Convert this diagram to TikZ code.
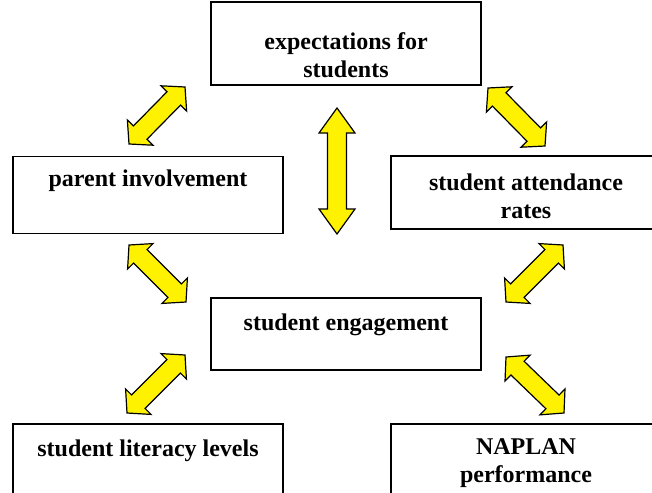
\documentclass[tikz,border=0pt]{standalone}
\usepackage{fontspec}
\setmainfont{Liberation Serif}
\usetikzlibrary{calc}
\tikzset{box/.style={draw,line width=1.6pt,minimum width=270pt,inner sep=0pt},
  boxtext/.style={font=\fontsize{24}{28}\selectfont\bfseries,align=center,inner sep=0pt},
  twowaystyle/.style={draw=black,fill=yellow,line width=1.2pt,line join=miter}}
% yellow double block arrow between two coordinates, #1 = head length
\newcommand{\twoway}[3][16pt]{%
\draw[twowaystyle] (#2)
  -- ($($(#2)!#1!(#3)$)!18pt!90:(#3)$)
  -- ($($(#2)!#1!(#3)$)!9.5pt!90:(#3)$)
  -- ($($(#3)!#1!(#2)$)!9.5pt!-90:(#2)$)
  -- ($($(#3)!#1!(#2)$)!18pt!-90:(#2)$)
  -- (#3)
  -- ($($(#3)!#1!(#2)$)!18pt!90:(#2)$)
  -- ($($(#3)!#1!(#2)$)!9.5pt!90:(#2)$)
  -- ($($(#2)!#1!(#3)$)!9.5pt!-90:(#3)$)
  -- ($($(#2)!#1!(#3)$)!18pt!-90:(#3)$)
  -- cycle;}

\begin{document}
\begin{tikzpicture}[x=1pt,y=-1pt]
\useasboundingbox (0,0) rectangle (652,492);
\clip (0,0) rectangle (652,492);
% boxes
\node[box,minimum height=83pt] (expect) at (346,43.5) {};
\node[box,minimum height=77pt] (parent) at (148,195) {};
\node[box,minimum height=73pt] (attend) at (526,192.5) {};
\node[box,minimum height=72pt] (engage) at (346,334) {};
\node[box,minimum height=86pt] (literacy) at (148,467) {};
\node[box,minimum height=86pt] (naplan) at (526,467) {};
% texts
\node[boxtext] (expectlbl) at (346,55) {expectations for\\students};
\node[boxtext] (parentlbl) at (148,181) {parent involvement};
\node[boxtext] (attendlbl) at (526,196) {student attendance\\rates};
\node[boxtext] (engagelbl) at (346,325) {student engagement};
\node[boxtext] (literacylbl) at (148,451) {student literacy levels};
\node[boxtext] (naplanlbl) at (526,463) {NAPLAN\\performance};
% arrow ends
\coordinate (ep1) at (129,144);
\coordinate (ep2) at (185,87);
\coordinate (ea1) at (488,88);
\coordinate (ea2) at (545,146);
\coordinate (ee1) at (337,108);
\coordinate (ee2) at (337,234);
\coordinate (pe1) at (129,245);
\coordinate (pe2) at (186,302);
\coordinate (ae1) at (563,245);
\coordinate (ae2) at (506,302);
\coordinate (el1) at (185,355);
\coordinate (el2) at (127,413);
\coordinate (en1) at (506,357);
\coordinate (en2) at (564,413);
% arrows
\twoway{ep1}{ep2}
\twoway{ea1}{ea2}
\twoway[25pt]{ee1}{ee2}
\twoway{pe1}{pe2}
\twoway{ae1}{ae2}
\twoway{el1}{el2}
\twoway{en1}{en2}
\end{tikzpicture}
\end{document}
